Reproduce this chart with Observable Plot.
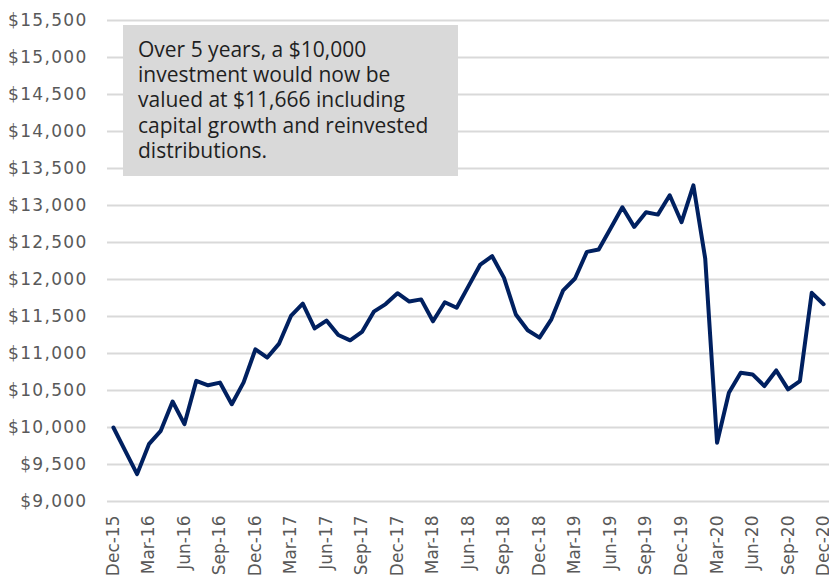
<!DOCTYPE html>
<html>
<head>
<meta charset="utf-8">
<script src="https://cdn.jsdelivr.net/npm/d3@7"></script>
<script src="https://cdn.jsdelivr.net/npm/@observablehq/plot@0.6"></script>
<style>
  html, body { margin: 0; padding: 0; background: #ffffff; }
  #wrap { position: relative; width: 829px; height: 579px; }
  #wrap svg g[aria-label="y-axis tick label"] text { letter-spacing: 1.3px; }
  #note {
    position: absolute; left: 123px; top: 25px; width: 320px; height: 139px;
    background: #d9d9d9; padding: 12px 0 0 15px;
    font-family: "Open Sans", sans-serif; font-size: 21px; line-height: 25.2px;
    color: #1f1f1f; white-space: nowrap;
  }
</style>
</head>
<body>
<div id="wrap"></div>
<script>
const months = [
  "Dec-15","Jan-16","Feb-16","Mar-16","Apr-16","May-16","Jun-16","Jul-16","Aug-16","Sep-16","Oct-16","Nov-16",
  "Dec-16","Jan-17","Feb-17","Mar-17","Apr-17","May-17","Jun-17","Jul-17","Aug-17","Sep-17","Oct-17","Nov-17",
  "Dec-17","Jan-18","Feb-18","Mar-18","Apr-18","May-18","Jun-18","Jul-18","Aug-18","Sep-18","Oct-18","Nov-18",
  "Dec-18","Jan-19","Feb-19","Mar-19","Apr-19","May-19","Jun-19","Jul-19","Aug-19","Sep-19","Oct-19","Nov-19",
  "Dec-19","Jan-20","Feb-20","Mar-20","Apr-20","May-20","Jun-20","Jul-20","Aug-20","Sep-20","Oct-20","Nov-20",
  "Dec-20"
];
const values = [
  10000, 9685, 9370, 9775, 9955, 10351, 10045, 10630, 10570, 10607, 10315, 10610,
  11057, 10945, 11134, 11507, 11674, 11340, 11445, 11250, 11178, 11292, 11565, 11668,
  11815, 11702, 11731, 11435, 11693, 11619, 11910, 12202, 12315, 12022, 11527, 11314,
  11215, 11462, 11854, 12013, 12373, 12405, 12688, 12976, 12711, 12909, 12877, 13138,
  12774, 13273, 12283, 9795, 10470, 10740, 10717, 10560, 10771, 10515, 10627, 11820,
  11666
];
const xTickLabels = ["Dec-15","Mar-16","Jun-16","Sep-16","Dec-16","Mar-17","Jun-17","Sep-17","Dec-17",
  "Mar-18","Jun-18","Sep-18","Dec-18","Mar-19","Jun-19","Sep-19","Dec-19","Mar-20","Jun-20","Sep-20","Dec-20"];
const yTicks = [9000, 9500, 10000, 10500, 11000, 11500, 12000, 12500, 13000, 13500, 14000, 14500, 15000, 15500];
const noteLines = [
  "Over 5 years, a $10,000",
  "investment would now be",
  "valued at $11,666 including",
  "capital growth and reinvested",
  "distributions."
];

const data = months.map((m, i) => ({i, m, v: values[i]}));
const xTickIdx = xTickLabels.map(l => months.indexOf(l));
const fmt = d3.format(",");

const chart = Plot.plot({
  width: 829,
  height: 579,
  marginLeft: 107,
  marginRight: 0,
  marginTop: 20,
  marginBottom: 78,
  style: {fontFamily: "DejaVu Sans, sans-serif", fontSize: "17px", color: "#595959", background: "#ffffff"},
  x: {type: "linear", domain: [-0.5, months.length - 0.5]},
  y: {domain: [9000, 15500]},
  marks: [
    Plot.ruleY(yTicks, {stroke: "#d9d9d9", strokeWidth: 2}),
    Plot.axisY({ticks: yTicks, tickSize: 0, tickPadding: 20, tickFormat: d => "$" + fmt(d), label: null}),
    Plot.axisX({ticks: xTickIdx, tickSize: 0, tickPadding: 14, tickRotate: -90, tickFormat: i => months[i], label: null}),
    Plot.line(data, {x: "i", y: "v", stroke: "#002060", strokeWidth: 4, strokeLinejoin: "round", strokeLinecap: "round"})
  ]
});

const wrap = document.getElementById("wrap");
wrap.appendChild(chart);
const note = document.createElement("div");
note.id = "note";
note.innerHTML = noteLines.map(s => s.replace(/&/g, "&amp;")).join("<br>");
wrap.appendChild(note);
</script>
</body>
</html>
